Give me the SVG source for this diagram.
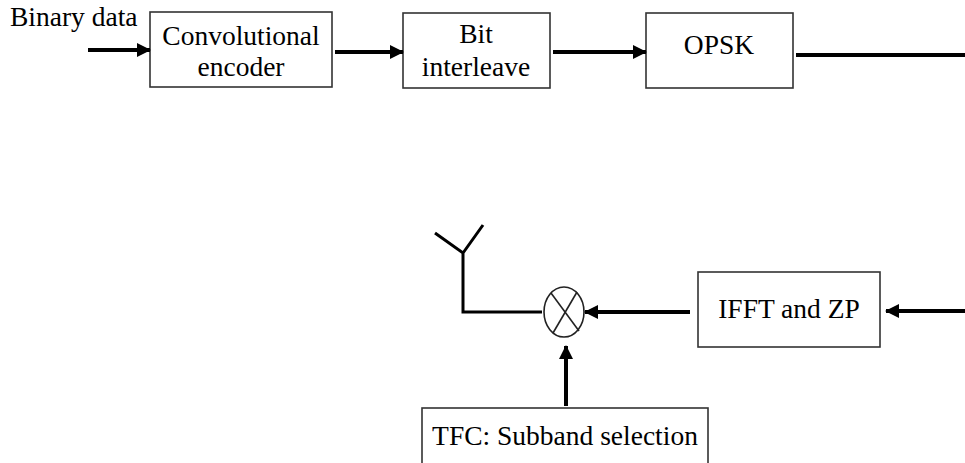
<svg xmlns="http://www.w3.org/2000/svg" width="965" height="463" viewBox="0 0 965 463">
<defs>
<marker id="ah" markerUnits="userSpaceOnUse" markerWidth="14" markerHeight="14" refX="13" refY="7" orient="auto">
<path d="M0,0 L14,7 L0,14 Z" fill="#000"/>
</marker>
<style>
.box{fill:#fff;stroke:#333;stroke-width:1.6}
.t{font-family:"Liberation Serif","Times New Roman",serif;font-size:27.5px;fill:#000}
.c{stroke:#000;stroke-width:4;fill:none}
.a{stroke:#000;stroke-width:3;fill:none}
</style>
</defs>
<rect width="965" height="463" fill="#fff"/>
<text class="t" x="10" y="26">Binary data</text>
<g id="conv"><rect class="box" x="150" y="12" width="182" height="75"/>
<text class="t" x="241" y="45" text-anchor="middle">Convolutional</text>
<text class="t" x="241" y="76" text-anchor="middle">encoder</text></g>
<g id="bit"><rect class="box" x="403" y="13" width="147" height="75"/>
<text class="t" x="476" y="43" text-anchor="middle">Bit</text>
<text class="t" x="476" y="76" text-anchor="middle">interleave</text></g>
<g id="opsk"><rect class="box" x="646" y="13" width="147" height="75"/>
<text class="t" x="719" y="54" text-anchor="middle">OPSK</text></g>
<g id="ifft"><rect class="box" x="698" y="272" width="182" height="75"/>
<text class="t" x="789" y="318" text-anchor="middle">IFFT and ZP</text></g>
<g id="tfc"><rect class="box" x="422" y="408" width="286" height="70"/>
<text class="t" x="565" y="445" text-anchor="middle">TFC: Subband selection</text></g>
<g id="mixer"><ellipse cx="564" cy="312" rx="20" ry="25" fill="#fff" stroke="#222" stroke-width="1.6"/>
<line x1="551" y1="293" x2="579" y2="331" stroke="#222" stroke-width="1.6"/>
<line x1="577" y1="292" x2="553" y2="333" stroke="#222" stroke-width="1.6"/></g>
<g id="antenna"><path class="a" d="M435,233 L463,253 L483,225 M463,253 L463,312 L542,312"/></g>
<g id="connectors">
<line class="c" x1="88" y1="50" x2="150" y2="50" marker-end="url(#ah)"/>
<line class="c" x1="335" y1="52" x2="403" y2="52" marker-end="url(#ah)"/>
<line class="c" x1="553" y1="52" x2="646" y2="52" marker-end="url(#ah)"/>
<line class="c" x1="796" y1="55" x2="965" y2="55"/>
<line class="c" x1="965" y1="311" x2="886" y2="311" marker-end="url(#ah)"/>
<line class="c" x1="690" y1="312" x2="585" y2="312" marker-end="url(#ah)"/>
<line class="c" x1="566" y1="406" x2="566" y2="346" marker-end="url(#ah)"/>
</g>
</svg>
